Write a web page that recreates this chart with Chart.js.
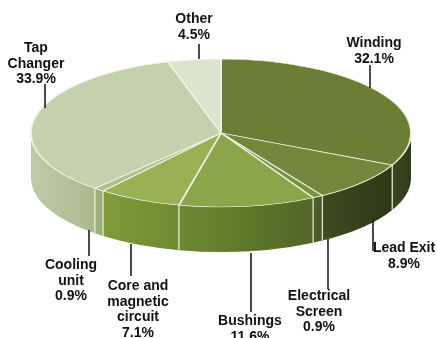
<!DOCTYPE html>
<html>
<head>
<meta charset="utf-8">
<script src="https://cdn.jsdelivr.net/npm/chart.js@4.4.0/dist/chart.umd.min.js"></script>
<style>
  html, body { margin: 0; padding: 0; background: #fff; }
  #wrap { width: 437px; height: 338px; }
</style>
</head>
<body>
<div id="wrap"><canvas id="pie_chart" width="437" height="338"></canvas></div>
<script>
// data
const categories = ['Winding', 'Lead Exit', 'Electrical Screen', 'Bushings', 'Core and magnetic circuit', 'Cooling unit', 'Tap Changer', 'Other'];
const shares = [32.1, 8.9, 0.9, 11.6, 7.1, 0.9, 33.9, 4.5];
const labelLines = [['Winding'], ['Lead Exit'], ['Electrical', 'Screen'], ['Bushings'], ['Core and', 'magnetic', 'circuit'], ['Cooling', 'unit'], ['Tap', 'Changer'], ['Other']];

// colours: top face, side (right end -> left end)
const topColors = ['#6a7e36', '#71873b', '#7a9240', '#8aa64a', '#97b254', '#b0c18b', '#c5d0ac', '#dce3cf'];
const sideRight = ['#2f3b18', '#2d3816', '#46582a', '#4f6624', '#6d8a30', '#98ab74', '#aab98c', '#c8d2b6'];
const sideLeft  = ['#3a4820', '#3c4b1f', '#4e6127', '#6c8a32', '#7f9d3a', '#a2b482', '#bfcaa8', '#c8d2b6'];

// pie geometry on screen
const CX = 221, CY = 133, RX = 190, RY = 74, DEPTH = 45;

// label placement: text centre x, first baseline y, leader line
const labelPos = [
  { x: 374, y: 47, lx: 370, l1: 65, l2: 88 },
  { x: 404, y: 252, lx: 373, l1: 220, l2: 251 },
  { x: 319, y: 300, lx: 328, l1: 239, l2: 289 },
  { x: 250, y: 325, lx: 251, l1: 253, l2: 312 },
  { x: 138, y: 290, lx: 131, l1: 244, l2: 276 },
  { x: 71, y: 269, lx: 89, l1: 230, l2: 256 },
  { x: 36, y: 52, lx: 45, l1: 84, l2: 108 },
  { x: 194, y: 23, lx: 199, l1: 44, l2: 59 }
];

const pie3d = {
  id: 'pie3d',
  beforeDatasetsDraw(chart) {
    const ctx = chart.ctx;
    const arcs = chart.getDatasetMeta(0).data;

    // side wall, only the front half is visible
    arcs.forEach((arc, i) => {
      const s = Math.max(arc.startAngle, 0);
      const e = Math.min(arc.endAngle, Math.PI);
      if (e <= s) return;
      const g = ctx.createLinearGradient(CX + RX * Math.cos(s), 0, CX + RX * Math.cos(e), 0);
      g.addColorStop(0, sideRight[i]);
      g.addColorStop(1, sideLeft[i]);
      ctx.beginPath();
      ctx.ellipse(CX, CY, RX, RY, 0, s, e, false);
      ctx.ellipse(CX, CY + DEPTH, RX, RY, 0, e, s, true);
      ctx.closePath();
      ctx.fillStyle = g;
      ctx.fill();
    });

    // light seams between slices on the wall
    ctx.save();
    ctx.strokeStyle = 'rgba(236,242,224,0.9)';
    ctx.lineWidth = 1.3;
    arcs.forEach(arc => {
      const a = arc.startAngle;
      if (a <= 0 || a >= Math.PI) return;
      const x = CX + RX * Math.cos(a), y = CY + RY * Math.sin(a);
      ctx.beginPath();
      ctx.moveTo(x, y);
      ctx.lineTo(x, y + DEPTH);
      ctx.stroke();
    });
    ctx.restore();

    // squash the library's circle into the top face ellipse
    const a0 = arcs[0];
    ctx.save();
    ctx.translate(CX, CY);
    ctx.scale(RX / a0.outerRadius, RY / a0.outerRadius);
    ctx.translate(-a0.x, -a0.y);
  },
  afterDatasetsDraw(chart) {
    chart.ctx.restore();
  },
  afterDraw(chart) {
    const ctx = chart.ctx;
    ctx.save();
    ctx.fillStyle = '#111';
    ctx.strokeStyle = '#111';
    ctx.lineWidth = 1.5;
    ctx.font = 'bold 14px "Liberation Sans", Arial, sans-serif';
    ctx.textAlign = 'center';
    ctx.textBaseline = 'alphabetic';
    labelPos.forEach((p, i) => {
      const lines = labelLines[i].concat([shares[i].toFixed(1) + '%']);
      lines.forEach((t, j) => ctx.fillText(t, p.x, p.y + j * 15.6));
      ctx.beginPath();
      ctx.moveTo(p.lx, p.l1);
      ctx.lineTo(p.lx, p.l2);
      ctx.stroke();
    });
    ctx.restore();
  }
};

window.addEventListener('DOMContentLoaded', () => {
  const ctx = document.getElementById('pie_chart').getContext('2d');
  new Chart(ctx, {
    type: 'pie',
    data: {
      labels: categories,
      datasets: [{
        data: shares,
        backgroundColor: topColors,
        borderColor: '#eef3e2',
        borderWidth: 1.6,
        clip: false
      }]
    },
    options: {
      responsive: false,
      animation: false,
      events: [],
      layout: { padding: 0 },
      plugins: {
        legend: { display: false },
        tooltip: { enabled: false }
      }
    },
    plugins: [pie3d]
  });
});
</script>
</body>
</html>
